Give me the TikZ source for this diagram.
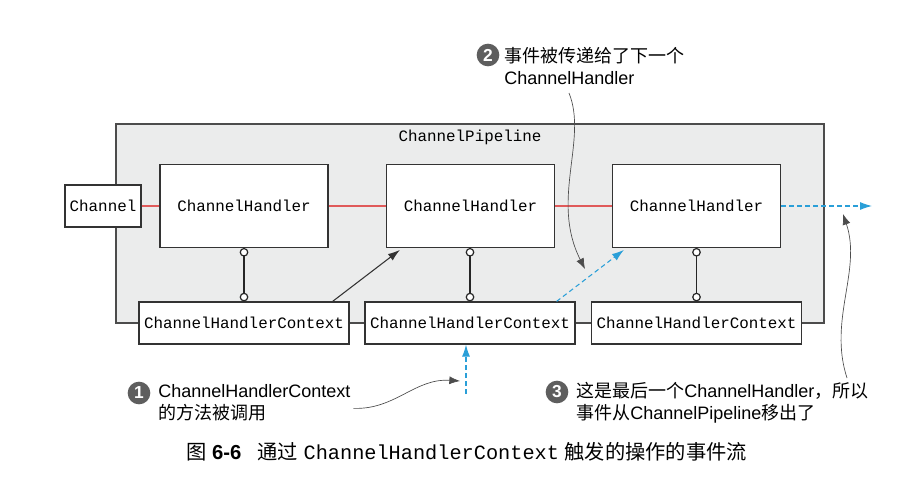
\documentclass[tikz,border=0pt]{standalone}
\usepackage{fontspec}
\setmainfont{Liberation Sans}
\setmonofont{Liberation Mono}
\newfontfamily\cjk{Noto Sans CJK SC}
\usetikzlibrary{positioning, arrows.meta}
\definecolor{pipegray}{HTML}{EBECEC}
\definecolor{flowblue}{HTML}{2A9FD8}
\definecolor{linkred}{HTML}{E05A5A}
\definecolor{markgray}{HTML}{5E5E5E}

\begin{document}
\begin{tikzpicture}[x=0.75pt, y=-0.75pt,
    box/.style={shape = rectangle, draw = black!80, fill = white, line width = 0.9pt, inner sep = 0pt, font = \fontsize{11.9}{14}\ttfamily},
    handlerbox/.style={box, minimum width = 126pt, minimum height = 62pt},
    ctxbox/.style={box, minimum width = 157.5pt, minimum height = 31.5pt},
    numdot/.style={shape = circle, fill = markgray, text = white, inner sep = 0pt, minimum size = 17pt, font = \fontsize{13}{13}\bfseries},
    note/.style={anchor = west, align = left, inner sep = 0pt, font = \fontsize{13.5}{16.5}\selectfont},
    hook/.style={{Circle[fill = white, length = 6.5pt]}-{Circle[fill = white, length = 6.5pt]}, line width = 0.9pt, black!85},
    flow/.style={-{Latex[length = 9pt, width = 6pt]}, flowblue, dashed, dash pattern = on 3.5pt off 2.5pt, line width = 0.8pt},
    pointer/.style={-{Latex[length = 8pt, width = 6pt]}, black!70, line width = 0.5pt}]
    \useasboundingbox (0, 0) rectangle (909, 477);

    % pipeline frame
    \node [draw = black!70, fill = pipegray, line width = 0.8pt, minimum width = 531pt, minimum height = 149.25pt, inner sep = 0pt] (pipe) at (470, 223.5) {};
    \node [font = \fontsize{11.9}{14}\ttfamily] (pipelabel) at (470, 137) {ChannelPipeline};

    \node [box, minimum width = 57pt, minimum height = 31.5pt] (chn) at (103, 206) {Channel};
    \node [handlerbox] (h1) at (244, 206) {ChannelHandler};
    \node [handlerbox] (h2) at (470.5, 206) {ChannelHandler};
    \node [handlerbox] (h3) at (696.5, 206) {ChannelHandler};
    \node [ctxbox] (ctx1) at (244, 323) {ChannelHandlerContext};
    \node [ctxbox] (ctx2) at (470, 323) {ChannelHandlerContext};
    \node [ctxbox] (ctx3) at (696.5, 323) {ChannelHandlerContext};

    \draw [linkred, line width = 0.8pt] (chn) -- (h1);
    \draw [linkred, line width = 0.8pt] (h1) -- (h2);
    \draw [linkred, line width = 0.8pt] (h2) -- (h3);

    \draw [hook] (h1) -- (ctx1);
    \draw [hook] (h2.south -| ctx2.north) -- (ctx2);
    \draw [hook] (h3) -- (ctx3);

    \draw [-{Latex[length = 9pt, width = 6pt]}, black!80, line width = 0.8pt] ([xshift = -12.75pt]ctx1.north east) -- ([xshift = 10.5pt, yshift = -1.5pt]h2.south west);
    \draw [flow] ([xshift = -14.25pt]ctx2.north east) -- ([xshift = 9pt, yshift = -1.5pt]h3.south west);

    \coordinate (out) at (872, 206);
    \coordinate (in) at (466, 394);
    \draw [flow] (h3) -- (out);
    \draw [flow] (in) -- (in |- ctx2.south);

    % callouts
    \node [numdot] (n1) at (139, 393) {1};
    \node [note] (t1) at (158, 403) {ChannelHandlerContext\\{\cjk 的方法被调用}};
    \node [numdot] (n2) at (488, 55) {2};
    \node [note] (t2) at (504, 66.5) {{\cjk 事件被传递给了下一个}\\ChannelHandler};
    \node [numdot] (n3) at (557, 392) {3};
    \node [note] (t3) at (576, 403) {{\cjk 这是最后一个}ChannelHandler{\cjk ，所以}\\{\cjk 事件从}ChannelPipeline{\cjk 移出了}};

    \coordinate (tip1) at (460, 381);
    \coordinate (s2) at (569, 93);
    \coordinate (tip2) at (585, 269);
    \coordinate (s3) at (847, 378);
    \coordinate (tip3) at (843, 214);
    \draw [pointer] ([xshift = 2pt, yshift = -4pt]t1.east) .. controls (395, 410) and (415, 378) .. (tip1);
    \draw [pointer] (s2) .. controls (588, 140) and (550, 200) .. (tip2);
    \draw [pointer] (s3) .. controls (828, 320) and (862, 270) .. (tip3);

    % caption
    \node [anchor = west, inner sep = 0pt, font = \fontsize{15.2}{18}\selectfont] (caption) at (186, 452) {{\cjk 图} \textbf{6-6}\hspace{12pt}{\cjk 通过} \texttt{ChannelHandlerContext} {\cjk 触发的操作的事件流}};
\end{tikzpicture}
\end{document}
